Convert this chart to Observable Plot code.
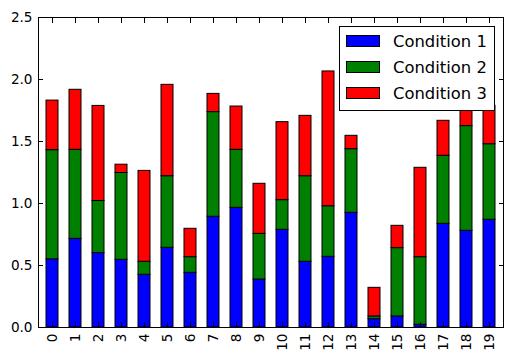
<!DOCTYPE html>
<html><head><meta charset="utf-8">
<script src="https://cdn.jsdelivr.net/npm/d3@7"></script>
<script src="https://cdn.jsdelivr.net/npm/@observablehq/plot@0.6"></script>
<style>
body{margin:0;background:#fff;font-family:"DejaVu Sans",sans-serif}
#wrap{position:relative;width:512px;height:360px}
.legend{position:absolute;left:339px;top:26px;width:156px;height:85px;border:1px solid #000;background:#fff;box-sizing:border-box}
.item{position:absolute;left:6px;height:26px;display:flex;align-items:center}
.sw{width:34px;height:12px;border:1px solid #000;box-sizing:border-box;margin-right:13px}
.lbl{font-size:16.4px;color:#000;font-family:"DejaVu Sans",sans-serif}
</style></head>
<body><div id="wrap"></div>
<script>
const categories = ["0","1","2","3","4","5","6","7","8","9","10","11","12","13","14","15","16","17","18","19"];
const seriesNames = ["Condition 1","Condition 2","Condition 3"];
const seriesColors = ["blue","green","red"];
const cond1 = [0.55,0.715,0.60,0.546,0.425,0.643,0.441,0.893,0.965,0.387,0.788,0.53,0.57,0.925,0.067,0.089,0.022,0.836,0.78,0.869];
const cond2 = [0.88,0.718,0.42,0.70,0.105,0.577,0.126,0.844,0.468,0.368,0.239,0.69,0.408,0.513,0.022,0.551,0.545,0.549,0.844,0.609];
const cond3 = [0.40,0.484,0.767,0.067,0.733,0.737,0.229,0.147,0.349,0.404,0.629,0.487,1.087,0.108,0.231,0.180,0.721,0.282,0.20,0.31];
const yTicks = [0,0.5,1.0,1.5,2.0,2.5];

const allSeries = [cond1, cond2, cond3];
const data = [];
allSeries.forEach((vals, s) => vals.forEach((v, i) => data.push({cat: categories[i], cond: seriesNames[s], value: v})));

const font = '"DejaVu Sans", sans-serif';
const chart = Plot.plot({
  width: 512, height: 360,
  marginLeft: 38, marginRight: 9, marginTop: 17, marginBottom: 33,
  style: {fontFamily: font, fontSize: "13.6px", color: "#000", background: "#fff"},
  x: {type: "band", domain: categories, paddingInner: 0.5, paddingOuter: 0.25, align: 0.5, label: null},
  y: {domain: [0, 2.5], label: null},
  color: {domain: seriesNames, range: seriesColors},
  marks: [
    Plot.barY(data, {x: "cat", y: "value", fill: "cond", stroke: "black", strokeWidth: 1}),
    Plot.axisY({ticks: yTicks, tickSize: 0, tickPadding: 6, tickFormat: d3.format(".1f"), label: null}),
    Plot.axisY({ticks: yTicks, tickSize: -5, tickFormat: () => "", label: null}),
    Plot.axisY({ticks: yTicks, anchor: "right", tickSize: -5, tickFormat: () => "", label: null}),
    Plot.axisX({tickSize: 0, tickPadding: 6, tickRotate: -90, label: null}),
    Plot.axisX({tickSize: -5, tickFormat: () => "", label: null}),
    Plot.axisX({anchor: "top", tickSize: -5, tickFormat: () => "", label: null}),
    Plot.frame({stroke: "black", strokeWidth: 1})
  ]
});
const wrap = document.getElementById("wrap");
wrap.appendChild(chart);

const leg = document.createElement("div");
leg.className = "legend";
seriesNames.forEach((n, i) => {
  const it = document.createElement("div");
  it.className = "item";
  it.style.top = (1 + i * 26.2) + "px";
  const sw = document.createElement("div");
  sw.className = "sw"; sw.style.background = seriesColors[i];
  const lb = document.createElement("span");
  lb.className = "lbl"; lb.textContent = n;
  it.appendChild(sw); it.appendChild(lb);
  leg.appendChild(it);
});
wrap.appendChild(leg);
</script>
</body></html>
